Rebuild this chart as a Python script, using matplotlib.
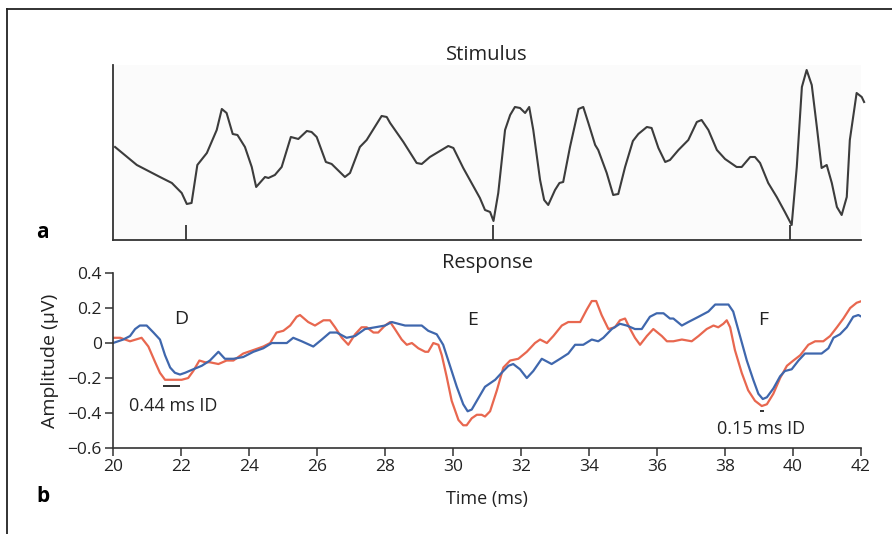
import numpy as np
import matplotlib.pyplot as plt
from matplotlib.lines import Line2D

plt.rcParams['font.family'] = ['Open Sans', 'DejaVu Sans']

# stimulus waveform (arbitrary units)
stim_t = [20.06, 20.70, 21.38, 21.73, 22.02, 22.17, 22.31, 22.48, 22.76, 23.05,
          23.20, 23.34, 23.52, 23.66, 23.88, 24.08, 24.21, 24.47, 24.57, 24.76,
          24.96, 25.23, 25.45, 25.70, 25.84, 25.99, 26.26, 26.43, 26.82, 26.97,
          27.26, 27.46, 27.90, 28.05, 28.15, 28.54, 28.93, 29.08, 29.32, 29.86,
          30.01, 30.30, 30.79, 30.94, 31.09, 31.19, 31.33, 31.53, 31.68, 31.82,
          31.97, 32.12, 32.24, 32.36, 32.56, 32.68, 32.80, 33.00, 33.13, 33.24,
          33.44, 33.69, 33.83, 33.98, 34.18, 34.27, 34.52, 34.71, 34.86, 35.06,
          35.29, 35.45, 35.70, 35.84, 36.04, 36.24, 36.38, 36.63, 36.92, 37.17,
          37.31, 37.51, 37.76, 38.00, 38.34, 38.49, 38.74, 38.88, 39.03, 39.27,
          39.52, 39.76, 39.96, 40.11, 40.26, 40.40, 40.55, 40.70, 40.84, 40.99,
          41.14, 41.29, 41.43, 41.58, 41.67, 41.87, 42.02, 42.09]
stim_a = [0.93, 0.75, 0.63, 0.57, 0.47, 0.36, 0.37, 0.75, 0.87, 1.10,
          1.31, 1.27, 1.06, 1.05, 0.93, 0.73, 0.53, 0.63, 0.62, 0.65,
          0.73, 1.03, 1.01, 1.09, 1.08, 1.03, 0.78, 0.76, 0.63, 0.67,
          0.93, 1.00, 1.24, 1.23, 1.17, 0.98, 0.77, 0.76, 0.83, 0.94,
          0.92, 0.72, 0.42, 0.30, 0.28, 0.19, 0.47, 1.10, 1.25, 1.33,
          1.32, 1.27, 1.33, 1.10, 0.60, 0.40, 0.35, 0.50, 0.57, 0.58,
          0.93, 1.31, 1.33, 1.17, 0.95, 0.90, 0.67, 0.45, 0.46, 0.73,
          0.99, 1.06, 1.13, 1.12, 0.92, 0.78, 0.80, 0.90, 1.00, 1.18,
          1.20, 1.10, 0.90, 0.81, 0.73, 0.73, 0.83, 0.83, 0.77, 0.57,
          0.43, 0.28, 0.15, 0.73, 1.53, 1.70, 1.55, 1.13, 0.72, 0.75,
          0.57, 0.33, 0.25, 0.43, 1.00, 1.47, 1.43, 1.38]
stim_marks = [22.15, 31.18, 39.9]

# response, blue trace
blue_t = [20.00, 20.30, 20.50, 20.65, 20.79, 20.99, 21.19, 21.38, 21.53, 21.68,
          21.82, 21.97, 22.12, 22.36, 22.61, 22.85, 23.10, 23.29, 23.54, 23.83,
          24.13, 24.42, 24.67, 24.91, 25.11, 25.30, 25.55, 25.89, 26.14, 26.38,
          26.58, 26.87, 27.12, 27.41, 27.71, 28.00, 28.20, 28.39, 28.59, 29.08,
          29.27, 29.52, 29.71, 29.91, 30.11, 30.30, 30.43, 30.55, 30.70, 30.94,
          31.24, 31.43, 31.63, 31.77, 31.97, 32.17, 32.36, 32.61, 32.90, 33.15,
          33.39, 33.59, 33.83, 34.08, 34.27, 34.42, 34.67, 34.91, 35.11, 35.35,
          35.55, 35.79, 35.99, 36.19, 36.38, 36.48, 36.73, 36.92, 37.22, 37.51,
          37.71, 37.90, 38.10, 38.24, 38.44, 38.64, 38.83, 38.98, 39.11, 39.23,
          39.42, 39.62, 39.76, 39.96, 40.16, 40.35, 40.55, 40.84, 41.04, 41.19,
          41.38, 41.58, 41.77, 41.92, 42.02]
blue_v = [0.00, 0.02, 0.04, 0.08, 0.10, 0.10, 0.06, 0.02, -0.07, -0.14,
          -0.17, -0.18, -0.17, -0.15, -0.13, -0.10, -0.05, -0.09, -0.09, -0.08,
          -0.05, -0.03, 0.00, 0.00, 0.00, 0.03, 0.01, -0.02, 0.02, 0.06,
          0.06, 0.03, 0.04, 0.08, 0.09, 0.10, 0.12, 0.11, 0.10, 0.10,
          0.07, 0.05, -0.01, -0.13, -0.25, -0.35, -0.39, -0.38, -0.33, -0.25,
          -0.21, -0.17, -0.13, -0.12, -0.15, -0.20, -0.16, -0.09, -0.12, -0.09,
          -0.06, -0.01, -0.01, 0.02, 0.01, 0.03, 0.08, 0.11, 0.10, 0.08,
          0.08, 0.15, 0.17, 0.17, 0.14, 0.14, 0.10, 0.12, 0.15, 0.18,
          0.22, 0.22, 0.22, 0.18, 0.04, -0.10, -0.21, -0.29, -0.32, -0.31,
          -0.26, -0.19, -0.16, -0.15, -0.10, -0.06, -0.06, -0.06, -0.03, 0.03,
          0.05, 0.09, 0.15, 0.16, 0.15]

# response, red trace
red_t = [20.00, 20.21, 20.50, 20.84, 21.04, 21.24, 21.38, 21.53, 21.77, 22.02,
         22.21, 22.36, 22.54, 22.71, 22.85, 23.10, 23.34, 23.54, 23.83, 24.13,
         24.42, 24.62, 24.81, 25.01, 25.21, 25.40, 25.50, 25.74, 25.94, 26.19,
         26.38, 26.53, 26.73, 26.92, 27.12, 27.31, 27.46, 27.66, 27.80, 28.00,
         28.15, 28.29, 28.49, 28.64, 28.79, 28.98, 29.18, 29.27, 29.42, 29.57,
         29.67, 29.81, 29.96, 30.16, 30.30, 30.40, 30.55, 30.70, 30.84, 30.94,
         31.09, 31.29, 31.48, 31.68, 31.92, 32.17, 32.41, 32.56, 32.76, 32.95,
         33.20, 33.39, 33.74, 33.93, 34.08, 34.21, 34.37, 34.57, 34.76, 34.91,
         35.06, 35.21, 35.35, 35.50, 35.70, 35.89, 36.14, 36.29, 36.48, 36.73,
         37.02, 37.22, 37.46, 37.66, 37.80, 37.95, 38.05, 38.15, 38.29, 38.49,
         38.68, 38.88, 39.08, 39.23, 39.42, 39.62, 39.82, 40.01, 40.21, 40.45,
         40.65, 40.89, 41.09, 41.29, 41.48, 41.68, 41.87, 42.02]
red_v = [0.03, 0.03, 0.01, 0.03, -0.02, -0.11, -0.17, -0.21, -0.21, -0.21,
         -0.20, -0.16, -0.10, -0.11, -0.11, -0.12, -0.10, -0.10, -0.06, -0.04,
         -0.02, 0.00, 0.06, 0.07, 0.10, 0.15, 0.16, 0.12, 0.10, 0.13,
         0.13, 0.09, 0.03, -0.01, 0.05, 0.09, 0.09, 0.06, 0.06, 0.10,
         0.12, 0.08, 0.02, -0.01, 0.00, -0.03, -0.05, -0.05, 0.00, -0.01,
         -0.07, -0.19, -0.33, -0.44, -0.47, -0.47, -0.43, -0.41, -0.41, -0.42,
         -0.39, -0.27, -0.14, -0.10, -0.09, -0.05, 0.00, 0.02, 0.00, 0.04,
         0.10, 0.12, 0.12, 0.19, 0.24, 0.24, 0.16, 0.08, 0.09, 0.13,
         0.14, 0.08, 0.03, -0.01, 0.04, 0.08, 0.04, 0.01, 0.01, 0.02,
         0.01, 0.04, 0.08, 0.10, 0.09, 0.11, 0.13, 0.09, -0.04, -0.17,
         -0.27, -0.33, -0.36, -0.35, -0.29, -0.20, -0.13, -0.10, -0.07, -0.01,
         0.01, 0.01, 0.04, 0.09, 0.14, 0.20, 0.23, 0.24]

yticks = [0.4, 0.2, 0, -0.2, -0.4, -0.6]
ytick_labels = ['0.4', '0.2', '0', '\u22120.2', '\u22120.4', '\u22120.6']
xticks = [20, 22, 24, 26, 28, 30, 32, 34, 36, 38, 40, 42]

txt = '#222222'

fig = plt.figure(figsize=(8.92, 5.34), dpi=100)

# panel a: stimulus
ax1 = fig.add_axes([0.1267, 0.5506, 0.8386, 0.3277])
ax1.set_facecolor('#fbfbfb')
ax1.plot(stim_t, stim_a, color='#3c3c3c', lw=1.5, clip_on=False)
ax1.vlines(stim_marks, 0, 0.15, color='#222222', lw=1.2)
ax1.set_xlim(20, 42)
ax1.set_ylim(0, 1.75)
ax1.set_xticks([])
ax1.set_yticks([])
for s in ['top', 'right']:
    ax1.spines[s].set_visible(False)
for s in ['left', 'bottom']:
    ax1.spines[s].set_color('#333333')
    ax1.spines[s].set_linewidth(1.3)
ax1.set_title('Stimulus', fontsize=14.5, pad=3, color=txt)

# panel b: response
ax2 = fig.add_axes([0.1267, 0.1610, 0.8386, 0.3277])
ax2.plot(red_t, red_v, color='#e8674f', lw=1.6)
ax2.plot(blue_t, blue_v, color='#3f67ad', lw=1.6)
ax2.set_xlim(20, 42)
ax2.set_ylim(-0.6, 0.4)
ax2.set_xticks(xticks)
ax2.set_yticks(yticks)
ax2.set_yticklabels(ytick_labels)
ax2.tick_params(labelsize=12.5, length=6, width=1.1, color='#333333', labelcolor=txt, pad=2)
for s in ['top', 'right']:
    ax2.spines[s].set_visible(False)
for s in ['left', 'bottom']:
    ax2.spines[s].set_color('#333333')
    ax2.spines[s].set_linewidth(1.2)
ax2.set_title('Response', fontsize=14.5, pad=1, color=txt)
ax2.set_xlabel('Time (ms)', fontsize=13, labelpad=11, color=txt)
ax2.set_ylabel('Amplitude (\u03bcV)', fontsize=14, labelpad=6, color=txt)

# peak labels and inter-aural delay marks
ax2.text(22.0, 0.14, 'D', fontsize=14, ha='center', va='center', color=txt)
ax2.text(30.58, 0.13, 'E', fontsize=14, ha='center', va='center', color=txt)
ax2.text(39.13, 0.13, 'F', fontsize=14, ha='center', va='center', color=txt)
ax2.hlines(-0.246, 21.47, 21.96, color='#222222', lw=1.3)
ax2.text(21.76, -0.36, '0.44 ms ID', fontsize=13, ha='center', va='center', color=txt)
ax2.hlines(-0.39, 39.03, 39.15, color='#222222', lw=1.3)
ax2.text(39.06, -0.49, '0.15 ms ID', fontsize=13, ha='center', va='center', color=txt)

# panel letters
fig.text(0.048, 1 - 232 / 534, 'a', fontsize=15, fontweight='bold', ha='center', va='center')
fig.text(0.048, 1 - 497 / 534, 'b', fontsize=15, fontweight='bold', ha='center', va='center')

# figure frame (top and left edges only)
fig.add_artist(Line2D([0.0079, 1.0], [0.983, 0.983], color='#222222', lw=1.3))
fig.add_artist(Line2D([0.0079, 0.0079], [0.0, 0.983], color='#222222', lw=1.3))

fig.savefig('out.png', dpi=100)
